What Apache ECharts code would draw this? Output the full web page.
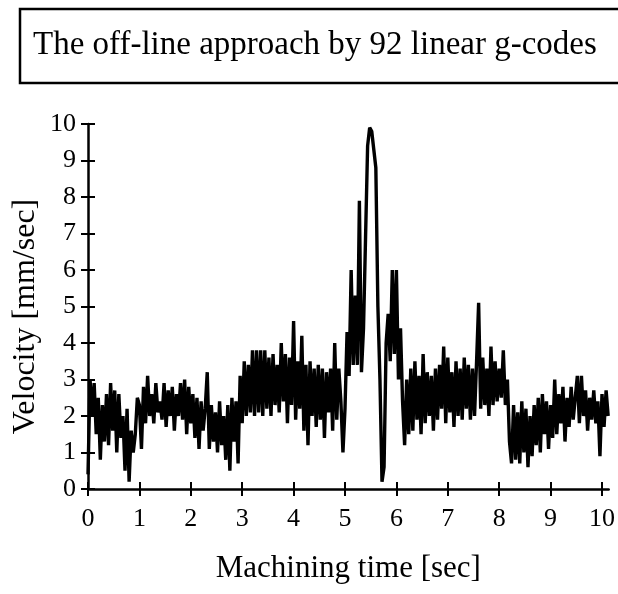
<!DOCTYPE html>
<html>
<head>
<meta charset="utf-8">
<script src="https://cdn.jsdelivr.net/npm/echarts@6/dist/echarts.min.js"></script>
<style>
html,body{margin:0;padding:0;background:#fff;}
#chart{width:618px;height:594px;}
</style>
</head>
<body>
<div id="chart"></div>
<script>
var titleText = 'The off-line approach by 92 linear g-codes';
var xName = 'Machining time [sec]';
var yName = 'Velocity [mm/sec]';
var xTicks = [0,1,2,3,4,5,6,7,8,9,10];
var yTicks = [0,1,2,3,4,5,6,7,8,9,10];
var sampleStart = 0;
var sampleStep = 0.04;
var vel0 = [0.4,3.0,2.0,2.9,1.5,2.5,0.8,2.3,1.3,2.6,1.2,2.9,1.6,2.7,1.0,2.6,1.4,2.0,0.5,2.2,0.2,1.6,1.0,1.5,2.5];
var vel1 = [2.3,1.1,2.8,1.8,3.1,2.0,2.6,1.8,2.9,2.1,2.4,1.9,2.9,1.7,2.7,2.0,2.8,1.6,2.6,2.0,2.9,1.9,3.0,1.5,2.8];
var vel2 = [1.8,2.6,1.4,2.5,1.1,2.4,1.6,2.2,3.2,1.1,2.3,1.3,2.1,1.0,2.4,1.2,2.0,0.8,2.3,0.5,2.5,1.3,2.4,0.7,3.1];
var vel3 = [1.8,3.5,2.0,3.4,2.1,3.8,2.0,3.8,2.1,3.8,2.0,3.8,2.2,3.6,2.0,3.7,2.3,3.4,2.1,4.0,2.4,3.7,1.8,3.6,2.3];
var vel4 = [4.6,1.9,3.5,2.2,4.2,1.6,3.4,1.2,3.5,2.0,3.3,1.7,3.4,1.9,3.3,1.4,3.2,2.1,3.3,1.6,4.0,1.9,3.3,2.4,1.0];
var vel5 = [2.2,4.3,3.1,6.0,3.4,5.3,3.4,7.9,3.2,4.4,6.9,9.4,9.9,9.8,9.3,8.8,5.0,3.0,0.2,0.6,4.0,4.8,3.5,6.0,3.7];
var vel6 = [6.0,3.0,4.4,2.4,1.2,3.0,1.5,3.3,1.6,3.5,1.9,3.1,1.5,3.7,1.8,3.2,2.0,3.1,1.6,3.3,1.9,3.4,2.2,3.9,1.8];
var vel7 = [3.6,2.1,3.2,1.7,3.5,2.0,3.3,1.9,3.6,2.2,3.4,1.9,3.3,2.0,3.5,5.1,2.2,3.6,2.3,3.3,2.0,3.9,2.3,3.5,2.4];
var vel8 = [3.3,2.5,3.8,2.3,3.0,1.3,0.7,2.3,0.8,2.1,0.7,2.4,1.0,2.2,0.6,2.0,0.9,2.3,1.2,2.5,1.0,2.6,1.5,2.4,1.1];
var vel9 = [2.3,1.4,3.0,1.5,2.6,1.8,2.8,1.3,2.5,1.7,2.8,1.9,2.5,3.1,1.8,3.1,2.0,2.7,1.6,2.5,1.9,2.7,1.8,2.4,0.9];
var vel10 = [2.6,1.7,2.7,2.0];

var velocity = [].concat(vel0,vel1,vel2,vel3,vel4,vel5,vel6,vel7,vel8,vel9,vel10);
var seriesData = velocity.map(function(v,i){ return [+(sampleStart + i*sampleStep).toFixed(2), v]; });

var FONT = 'Liberation Serif';
var chart = echarts.init(document.getElementById('chart'), null, {renderer:'canvas'});
var xBase = {
  type:'value', min:0, max:10.13, position:'bottom',
  axisLine:{show:true, onZero:false, lineStyle:{color:'#000', width:2.5}},
  splitLine:{show:false}
};
var yBase = {
  type:'value', min:0, max:10, position:'left',
  axisLine:{show:true, onZero:false, lineStyle:{color:'#000', width:2.5}},
  splitLine:{show:false}
};
chart.setOption({
  backgroundColor:'#fff',
  animation:false,
  grid:{left:88, top:124, right:6.5, bottom:105, containLabel:false},
  xAxis:[
    Object.assign({}, xBase, {
      name:xName, nameLocation:'middle', nameGap:64, nameMoveOverlap:false,
      nameTextStyle:{fontFamily:FONT, fontSize:31, color:'#000'},
      axisTick:{show:true, inside:false, length:7, customValues:xTicks, lineStyle:{color:'#000', width:2}},
      axisLabel:{show:true, customValues:xTicks, margin:17, fontFamily:FONT, fontSize:26, color:'#000'}
    }),
    Object.assign({}, xBase, {
      axisLine:{show:false},
      axisTick:{show:true, inside:true, length:7, customValues:xTicks, lineStyle:{color:'#000', width:2}},
      axisLabel:{show:false}
    })
  ],
  yAxis:[
    Object.assign({}, yBase, {
      name:yName, nameLocation:'middle', nameGap:46, nameMoveOverlap:false,
      nameTextStyle:{fontFamily:FONT, fontSize:32, color:'#000', padding:[0,20,0,0]},
      axisTick:{show:true, inside:false, length:7, customValues:yTicks, lineStyle:{color:'#000', width:2}},
      axisLabel:{show:true, customValues:yTicks, margin:12, fontFamily:FONT, fontSize:26, color:'#000'}
    }),
    Object.assign({}, yBase, {
      axisLine:{show:false},
      axisTick:{show:true, inside:true, length:7, customValues:yTicks, lineStyle:{color:'#000', width:2}},
      axisLabel:{show:false}
    })
  ],
  graphic:[
    {type:'rect', shape:{x:20, y:9, width:640, height:74},
     style:{fill:'#fff', stroke:'#000', lineWidth:2.5}, z:10},
    {type:'text', x:33, y:45,
     style:{text:titleText, fontFamily:FONT, fontSize:33, fill:'#000', verticalAlign:'middle', align:'left'}, z:11}
  ],
  series:[{
    type:'line', xAxisIndex:0, yAxisIndex:0, data:seriesData,
    showSymbol:false, symbol:'none', smooth:false,
    lineStyle:{color:'#000', width:3.4}
  }]
});
</script>
</body>
</html>
